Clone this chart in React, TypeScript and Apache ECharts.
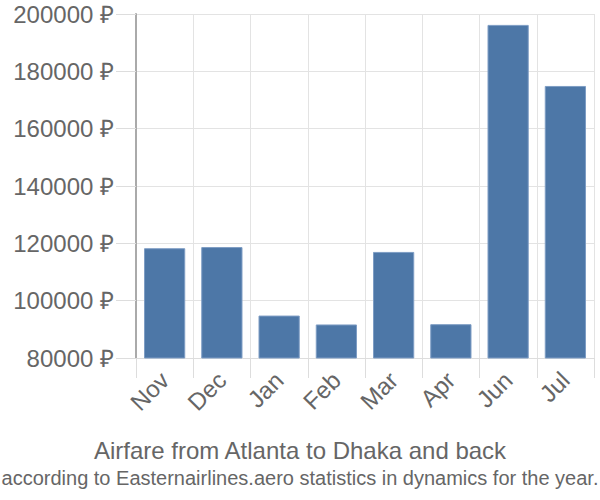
import React, { useEffect, useRef } from "react";
import * as echarts from "echarts";

const months = ["Nov", "Dec", "Jan", "Feb", "Mar", "Apr", "Jun", "Jul"];
const fares = [118300, 118700, 94800, 91700, 117000, 91800, 196200, 174900];
const titleText = "Airfare from Atlanta to Dhaka and back";
const subText = "according to Easternairlines.aero statistics in dynamics for the year.";

const FONT = "'Liberation Sans', Arial, sans-serif";

export default function App() {
  const ref = useRef<HTMLDivElement>(null);
  useEffect(() => {
    if (!ref.current) return;
    const chart = echarts.init(ref.current, null, { renderer: "svg" });
    chart.setOption({
      animation: false,
      textStyle: { fontFamily: FONT },
      title: [
        {
          text: titleText,
          left: "center",
          top: 433,
          textStyle: { fontFamily: FONT, fontSize: 24, fontWeight: "normal", color: "#666" },
        },
        {
          text: subText,
          left: "center",
          top: 463,
          textStyle: { fontFamily: FONT, fontSize: 20, fontWeight: "normal", color: "#666" },
        },
      ],
      grid: { left: 136, right: 6, top: 14, bottom: 142, containLabel: false },
      xAxis: {
        type: "category",
        data: months,
        axisLine: { show: true, lineStyle: { color: "#ddd" } },
        axisTick: { show: true, length: 20, lineStyle: { color: "#ddd" } },
        splitLine: { show: true, lineStyle: { color: "#e3e3e3" } },
        axisLabel: {
          rotate: 45,
          margin: 18,
          fontSize: 24,
          color: "#666",
          fontFamily: FONT,
        },
      },
      yAxis: {
        type: "value",
        min: 80000,
        max: 200000,
        interval: 20000,
        axisLine: { show: true, lineStyle: { color: "#aaa", width: 2 } },
        axisTick: { show: true, length: 20, lineStyle: { color: "#ddd" } },
        splitLine: { show: true, lineStyle: { color: "#e3e3e3" } },
        axisLabel: {
          margin: 22,
          fontSize: 24,
          color: "#666",
          fontFamily: FONT,
          formatter: (v: number) => `${v} ₽`,
        },
      },
      series: [
        {
          type: "bar",
          data: fares,
          barCategoryGap: "28%",
          itemStyle: { color: "#4d77a7", borderColor: "#7e9dc4", borderWidth: 1 },
        },
      ],
    });
    return () => chart.dispose();
  }, []);
  return (
    <div
      ref={ref}
      style={{ position: "absolute", left: 0, top: 0, width: 600, height: 500 }}
    />
  );
}
